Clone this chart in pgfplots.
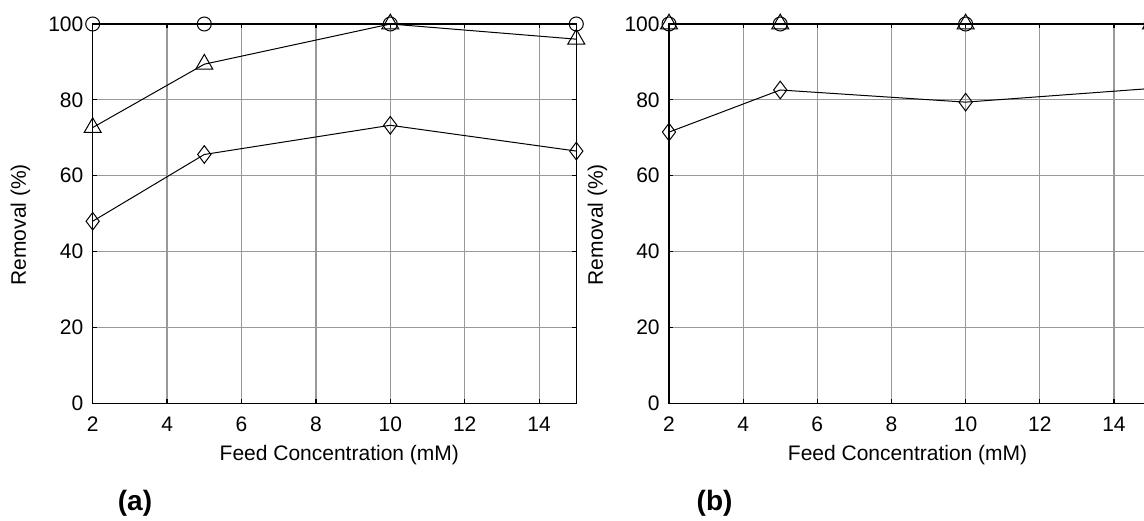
\documentclass[border=0pt]{standalone}
\usepackage{pgfplots}
\pgfplotsset{compat=1.18}
\usepackage{fontspec}
\setmainfont{Liberation Sans}

% Removal of three solutes vs. feed concentration, two membranes
\pgfplotstableread{
x   circ  tri   dia
2   100   72.7  48.0
5   100   89.4  65.6
10  100   100   73.3
15  100   96.0  66.5
}\dataA
\pgfplotstableread{
x   circ  tri   dia
2   100   100   71.5
5   100   100   82.6
10  100   100   79.4
15  100   100   83.0
}\dataB

\pgfplotsset{
  removal/.style={
    scale only axis,
    height=189.65pt,
    xmin=2, xmax=15, ymin=0, ymax=100,
    xtick={2,4,...,14}, ytick={0,20,...,100},
    grid=major,
    major grid style={black!40, line width=0.6pt},
    axis line style={black, line width=0.7pt},
    tick align=inside, major tick length=2pt,
    tick style={black, line width=0.6pt},
    /pgf/number format/assume math mode=true,
    ticklabel style={font=\fontsize{10.5}{12}\selectfont},
    yticklabel style={anchor=east, inner sep=0pt, xshift=-4.5pt},
    xticklabel style={anchor=north, inner sep=0pt, yshift=-6.7pt},
    label style={font=\fontsize{10.5}{12}\selectfont},
    xlabel={Feed Concentration (mM)},
    ylabel={Removal (\%)},
    clip mode=individual,
    every axis plot/.append style={black, line width=0.5pt,
      mark options={solid, black, line width=0.5pt, fill=none}},
  },
  pcirc/.style={mark=o, mark size=3.5pt},
  ptri/.style={mark=triangle, mark size=4.9pt},
  pdia/.style={mark=diamond, mark size=4.4pt},
}

\begin{document}
\begin{tikzpicture}
\begin{axis}[removal,
  at={(46.35pt,58.35pt)}, anchor=south west, width=241.8pt,
  xlabel style={at={(axis description cs:0.51,0)}, anchor=center, yshift=-25.85pt},
  ylabel style={at={(axis description cs:0,0.471)}, anchor=center, yshift=36.1pt},
]
\addplot[pcirc] table[x=x, y=circ] {\dataA};
\addplot[ptri]  table[x=x, y=tri]  {\dataA};
\addplot[pdia]  table[x=x, y=dia]  {\dataA};
\end{axis}

\begin{axis}[removal,
  at={(334.5pt,58.35pt)}, anchor=south west, width=241pt,
  xlabel style={at={(axis description cs:0.495,0)}, anchor=center, yshift=-25.85pt},
  ylabel style={at={(axis description cs:0,0.471)}, anchor=center, yshift=35.75pt},
]
\addplot[pcirc] table[x=x, y=circ] {\dataB};
\addplot[ptri]  table[x=x, y=tri]  {\dataB};
\addplot[pdia]  table[x=x, y=dia]  {\dataB};
\end{axis}

\node[font=\fontsize{14}{16}\selectfont\bfseries] at (67.5pt,8.35pt) {(a)};
\node[font=\fontsize{14}{16}\selectfont\bfseries] at (357.3pt,8.35pt) {(b)};

\pgfresetboundingbox
\useasboundingbox (0,0) rectangle (572pt,260pt);
\end{tikzpicture}
\end{document}
